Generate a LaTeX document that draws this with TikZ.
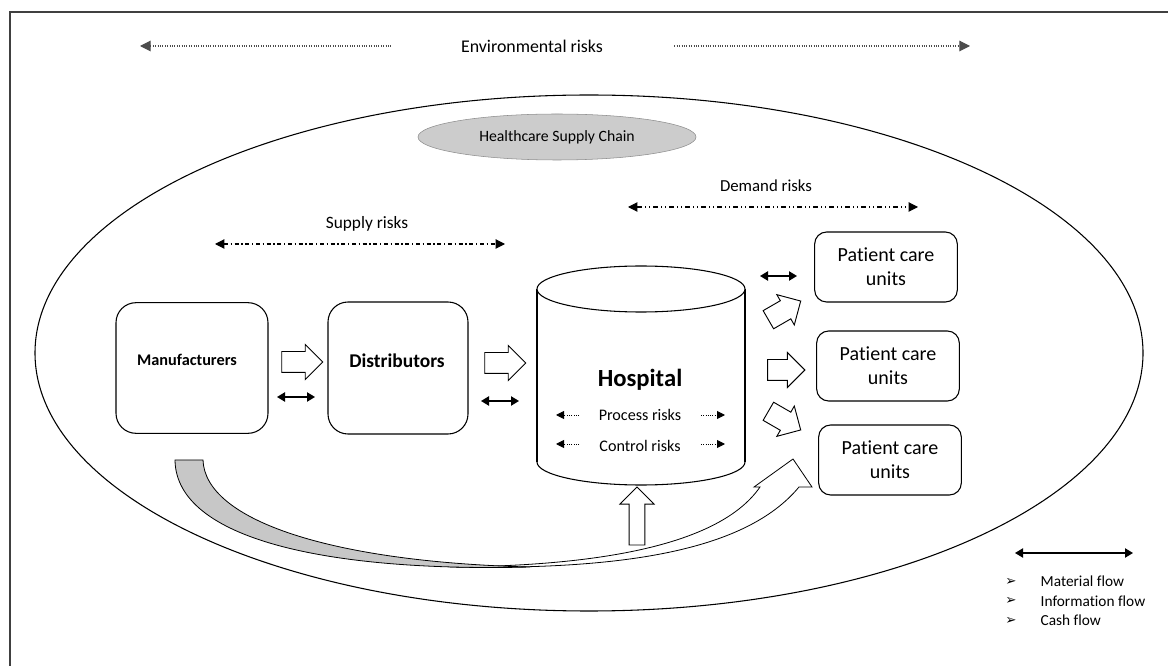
\documentclass[tikz,border=0pt]{standalone}
\usepackage{fontspec}
\setmainfont{Carlito}[Ligatures={NoCommon}]
\newfontfamily\bulletfont{DejaVu Sans}
\usetikzlibrary{arrows.meta, shapes.arrows, shapes.geometric}

\begin{document}
\begin{tikzpicture}[x=0.75pt,y=-0.75pt,
  unitbox/.style={draw, line width=0.8pt, rounded corners=15pt, minimum height=98pt},
  carebox/.style={draw, line width=0.8pt, rounded corners=9pt, minimum width=107pt, minimum height=52.5pt, align=center, font=\fontsize{15}{18}\selectfont},
  flowarrow/.style={single arrow, draw, line width=0.7pt, fill=white, inner xsep=0pt, inner ysep=7.5pt, minimum width=25.5pt, minimum height=30.75pt, single arrow head extend=5.25pt},
  linkarrow/.style={line width=1pt, {Triangle[length=6pt,width=7pt]}-{Triangle[length=6pt,width=7pt]}},
  risktip/.tip={Triangle[length=7pt,width=7pt]},
  risktext/.style={font=\fontsize{13}{15}\selectfont}]
\useasboundingbox (0,0) rectangle (1168,666);
\draw[line width=1.5pt, black!75] (10,666) -- (10,12) -- (1168,12);

% environment
\node[risktext, font=\fontsize{13.4}{15}\selectfont] (env) at (532,46) {Environmental risks};
\coordinate (envL) at (140,46);
\coordinate (envR) at (970,46);
\draw[densely dotted, line width=0.8pt, black!70, {Triangle[length=8pt,width=8pt]}-] (envL) -- ([xshift=-49pt]env.west);
\draw[densely dotted, line width=0.8pt, black!70, -{Triangle[length=8pt,width=8pt]}] ([xshift=50pt]env.east) -- (envR);

\draw[line width=0.8pt] (589,353) ellipse [x radius=554, y radius=258];
\node[ellipse, draw=black!45, fill=black!20, minimum width=208.5pt, minimum height=34.5pt, font=\fontsize{11.8}{13}\selectfont] (hsc) at (557,137) {Healthcare Supply Chain};

% supply and demand risks
\node[risktext] (supply) at (367,224) {Supply risks};
\coordinate (supL) at (215,244);
\coordinate (supR) at (505,244);
\draw[line width=0.8pt, dash pattern=on 3pt off 2pt on 1pt off 2pt, risktip-risktip] (supL) -- (supR);
\node[risktext, font=\fontsize{12.6}{15}\selectfont] (demand) at (766,186) {Demand risks};
\coordinate (demL) at (628,207);
\coordinate (demR) at (918,207);
\draw[line width=0.8pt, dash pattern=on 4pt off 2pt on 1pt off 2pt on 1pt off 2pt, risktip-risktip] (demL) -- (demR);

% chain members
\node[unitbox, minimum width=114pt] (man) at (192,368) {};
\node[font=\bfseries\fontsize{12.2}{14}\selectfont] (manT) at (187,360) {Manufacturers};
\node[unitbox, minimum width=105pt, minimum height=99pt] (dis) at (398,368) {};
\node[font=\bfseries\fontsize{14.6}{17}\selectfont] (disT) at (397,361) {Distributors};

\node[flowarrow] (md) at (297,362) {};
\node[flowarrow] (dh) at (500,363) {};
\draw[linkarrow] (277,397) -- (315,397);
\draw[linkarrow] (481,401) -- (519,401);

% hospital
\draw[line width=0.8pt, fill=white] (641,462) ellipse [x radius=104, y radius=23];
\fill[white] (537,289) rectangle (745,462);
\draw[line width=0.8pt] (537,289) -- (537,462) (745,289) -- (745,462);
\draw[line width=0.8pt, fill=white] (641,289) ellipse [x radius=104, y radius=23];
\node[font=\bfseries\fontsize{18.5}{21}\selectfont] (hosp) at (640,380) {Hospital};
\node[font=\fontsize{12.1}{14}\selectfont] (proc) at (640,415) {Process risks};
\node[font=\fontsize{12.1}{14}\selectfont] (ctrl) at (640,446) {Control risks};
\foreach \y in {415,444} {
  \draw[densely dotted, line width=0.7pt, -{Triangle[length=6pt,width=6pt]}] (579,\y) -- (556,\y);
  \draw[densely dotted, line width=0.7pt, -{Triangle[length=6pt,width=6pt]}] (701,\y) -- (725,\y);
}

% patient care units
\node[carebox] (pc1) at (886,267) {Patient care\\units};
\node[carebox] (pc2) at (888,366) {Patient care\\units};
\node[carebox] (pc3) at (890,460) {Patient care\\units};
\draw[linkarrow] (760,276) -- (797,276);
\node[flowarrow, minimum height=28pt, rotate=30] (hp1) at (780,313) {};
\node[flowarrow, minimum height=28pt] (hp2) at (781,370) {};
\node[flowarrow, minimum height=28pt, rotate=-30] (hp3) at (780,418) {};

% feedback loop
\draw[line width=0.6pt, fill=white] (450,567)
  .. controls (600,566) and (720,545) .. (760,487) -- (754,487) -- (793,459) -- (812,487) -- (799,487)
  .. controls (745,552) and (620,570) .. (450,567) -- cycle;
\draw[line width=0.6pt, fill=black!22] (175,460) -- (203,460)
  .. controls (205,520) and (330,562) .. (530,567)
  .. controls (330,572) and (176,540) .. (175,460) -- cycle;
\node[flowarrow, inner ysep=5.6pt, minimum width=24.75pt, minimum height=43.5pt, single arrow head extend=6.8pt, rotate=90] (up) at (637,520) {};

% legend
\coordinate (legL) at (1015,553);
\coordinate (legR) at (1133,553);
\draw[linkarrow, line width=0.8pt] (legL) -- (legR);
\foreach \t [count=\i] in {Material flow, Information flow, Cash flow} {
  \node[font=\bulletfont\fontsize{10}{11}\selectfont] (b\i) at (1011,562+19.5*\i) {➢};
  \node[anchor=west, font=\fontsize{11.5}{13}\selectfont] (l\i) at (1036,562+19.5*\i) {\t};
}
\end{tikzpicture}
\end{document}
